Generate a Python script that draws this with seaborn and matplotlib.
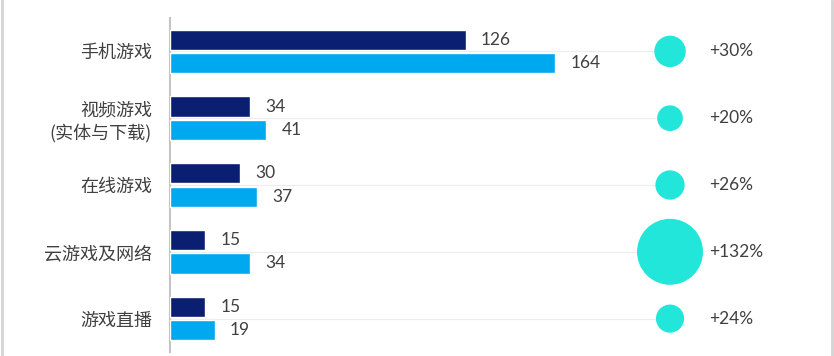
import numpy as np
import pandas as pd
import matplotlib
matplotlib.use("Agg")
import matplotlib.pyplot as plt
import seaborn as sns
from matplotlib.lines import Line2D

# data
categories = ["手机游戏", "视频游戏\n(实体与下载)", "在线游戏", "云游戏及网络", "游戏直播"]
series = ["前期", "后期"]
values_before = [126, 34, 30, 15, 15]
values_after = [164, 41, 37, 34, 19]
growth = [30, 20, 26, 132, 24]

sns.set_style("white")
plt.rcParams['font.family'] = ['Noto Sans CJK SC', 'DejaVu Sans']

df = pd.DataFrame({
    "category": categories * 2,
    "series": [series[0]] * 5 + [series[1]] * 5,
    "value": values_before + values_after,
})

fig = plt.figure(figsize=(8.34, 3.56), dpi=100)
W, H = 834, 356
ax = fig.add_axes([170 / W, 1 - 352 / H, (832 - 170) / W, (352 - 18) / H])

sns.barplot(data=df, y="category", x="value", hue="series", order=categories,
            hue_order=series, palette=["#0a1f72", "#00a8ef"], saturation=1,
            orient="h", width=0.7, gap=0.14, dodge=True, legend=False,
            ax=ax, zorder=3)

for cont in ax.containers:
    ax.bar_label(cont, padding=11, fontsize=12.5, color="#404040", family="Lato")

# bubble column for growth
bubble_x = 213
pos = np.arange(len(categories))
ax.hlines(pos, 0, bubble_x, color="#ececec", lw=0.8, zorder=1)
sns.scatterplot(x=[bubble_x] * len(growth), y=pos, size=growth,
                sizes=(0, 2257), size_norm=(0, 132), color="#22e6da",
                edgecolor="none", legend=False, ax=ax, zorder=4)
for i, g in enumerate(growth):
    ax.text(229.5, i, f"+{g}%", va="center", ha="left", fontsize=12.5,
            color="#404040", family="Lato")

ax.set_xlim(0, 282)
ax.set_ylim(4.5, -0.5)
ax.set_xlabel("")
ax.set_ylabel("")
ax.set_xticks([])
ax.set_yticks(pos)
ax.set_yticklabels(categories, fontsize=13, color="#404040", linespacing=1.3)
ax.tick_params(axis="y", length=0, pad=13)
for s in ["top", "right", "bottom"]:
    ax.spines[s].set_visible(False)
ax.spines["left"].set_color("#c4c4c4")
ax.spines["left"].set_linewidth(1.5)

# frame lines at the sides of the picture
fig.add_artist(Line2D([1.5 / W, 1.5 / W], [0, 1], color="#d4d4d4", lw=2))
fig.add_artist(Line2D([1 - 2 / W, 1 - 2 / W], [0, 1], color="#d4d4d4", lw=2))

fig.savefig("out.png", dpi=100)
